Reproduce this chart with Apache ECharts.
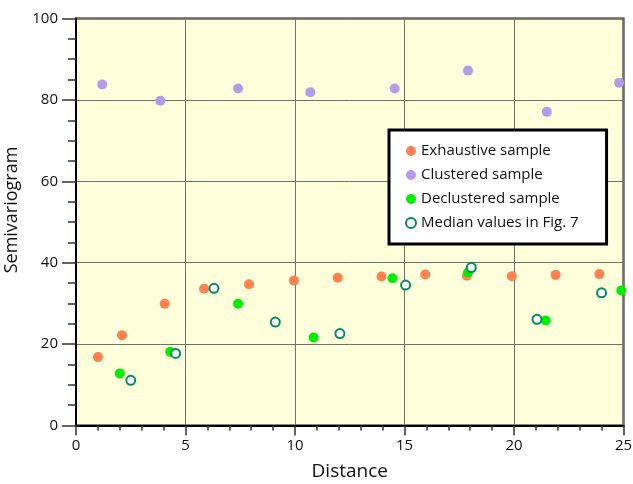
<!DOCTYPE html>
<html>
<head>
<meta charset="utf-8">
<script src="https://cdn.jsdelivr.net/npm/echarts@6/dist/echarts.min.js"></script>
<style>
html,body{margin:0;padding:0;background:#fff;}
#chart{width:633px;height:484px;}
</style>
</head>
<body>
<div id="chart"></div>
<script>
const exhaustiveX = [1.0, 2.1, 4.05, 5.85, 7.9, 9.95, 11.95, 13.95, 15.95, 17.85, 19.9, 21.9, 23.9];
const exhaustiveY = [16.8, 22.2, 29.9, 33.6, 34.7, 35.6, 36.3, 36.6, 37.1, 36.8, 36.7, 37.0, 37.2];
const clusteredX = [1.2, 3.85, 7.4, 10.7, 14.55, 17.9, 21.5, 24.8];
const clusteredY = [83.8, 79.8, 82.8, 81.9, 82.8, 87.2, 77.1, 84.2];
const declusteredX = [2.0, 4.3, 7.4, 10.85, 14.45, 17.9, 21.45, 24.9];
const declusteredY = [12.8, 18.1, 29.9, 21.6, 36.2, 37.6, 25.8, 33.2];
const medianX = [2.5, 4.55, 6.3, 9.1, 12.05, 15.05, 18.05, 21.05, 24.0];
const medianY = [11.1, 17.7, 33.7, 25.4, 22.6, 34.5, 38.8, 26.1, 32.6];
const seriesNames = ['Exhaustive sample', 'Clustered sample', 'Declustered sample', 'Median values in Fig. 7'];
const xTitle = 'Distance';
const yTitle = 'Semivariogram';

function pairs(xs, ys) { return xs.map((x, i) => [x, ys[i]]); }

const chart = echarts.init(document.getElementById('chart'), null, {renderer: 'canvas'});
const font = 'Open Sans';
chart.setOption({
  animation: false,
  backgroundColor: '#ffffff',
  grid: {
    left: 76, right: 9.5, top: 18.5, bottom: 58.5,
    containLabel: false, outerBoundsMode: 'none',
    show: true, backgroundColor: '#FFFFDC', borderColor: '#111', borderWidth: 2
  },
  legend: {
    orient: 'vertical',
    left: 389, top: 130,
    backgroundColor: '#ffffff',
    borderColor: '#000', borderWidth: 3,
    padding: [13, 28, 13, 16],
    itemGap: 8,
    itemWidth: 10, itemHeight: 10,
    textStyle: {fontFamily: font, fontSize: 15, color: '#111', lineHeight: 16},
    data: [
      {name: seriesNames[0], icon: 'circle'},
      {name: seriesNames[1], icon: 'circle'},
      {name: seriesNames[2], icon: 'circle'},
      {name: seriesNames[3], icon: 'emptyCircle', itemStyle: {color: '#008C5E', borderColor: '#008C5E', borderWidth: 2}}
    ]
  },
  xAxis: {
    type: 'value', min: 0, max: 25, interval: 5,
    name: xTitle, nameLocation: 'middle', nameGap: 37,
    nameTextStyle: {fontFamily: font, fontSize: 19, color: '#111'},
    axisLine: {show: true, onZero: false, lineStyle: {color: '#000', width: 2}},
    axisTick: {show: true, inside: false, length: 10, lineStyle: {color: '#333', width: 1.5}},
    minorTick: {show: true, splitNumber: 5, length: 5, lineStyle: {color: '#333', width: 1.5}},
    axisLabel: {fontFamily: font, fontSize: 15, color: '#111', margin: 13},
    splitLine: {show: true, lineStyle: {color: '#707066', width: 1}}
  },
  yAxis: {
    type: 'value', min: 0, max: 100, interval: 20,
    name: yTitle, nameLocation: 'middle', nameGap: 43,
    nameTextStyle: {fontFamily: font, fontSize: 18, color: '#111', padding: [0, 0, 0, 24]},
    axisLine: {show: true, onZero: false, lineStyle: {color: '#000', width: 2}},
    axisTick: {show: true, inside: false, length: 14, lineStyle: {color: '#333', width: 1.5}},
    minorTick: {show: true, splitNumber: 4, length: 8, lineStyle: {color: '#333', width: 1.5}},
    axisLabel: {fontFamily: font, fontSize: 15, color: '#111', margin: 18},
    splitLine: {show: true, lineStyle: {color: '#707066', width: 1}}
  },
  series: [
    {name: seriesNames[0], type: 'scatter', symbol: 'circle', symbolSize: 10,
     itemStyle: {color: '#FF8150', opacity: 1}, data: pairs(exhaustiveX, exhaustiveY), z: 3},
    {name: seriesNames[1], type: 'scatter', symbol: 'circle', symbolSize: 10,
     itemStyle: {color: '#B39BE8', opacity: 1}, data: pairs(clusteredX, clusteredY), z: 3},
    {name: seriesNames[2], type: 'scatter', symbol: 'circle', symbolSize: 10,
     itemStyle: {color: '#00EE00', opacity: 1}, data: pairs(declusteredX, declusteredY), z: 4},
    {name: seriesNames[3], type: 'scatter', symbol: 'emptyCircle', symbolSize: 9,
     itemStyle: {color: '#008C5E', borderColor: '#008C5E', borderWidth: 2, opacity: 1},
     data: pairs(medianX, medianY), z: 5}
  ]
});
</script>
</body>
</html>
